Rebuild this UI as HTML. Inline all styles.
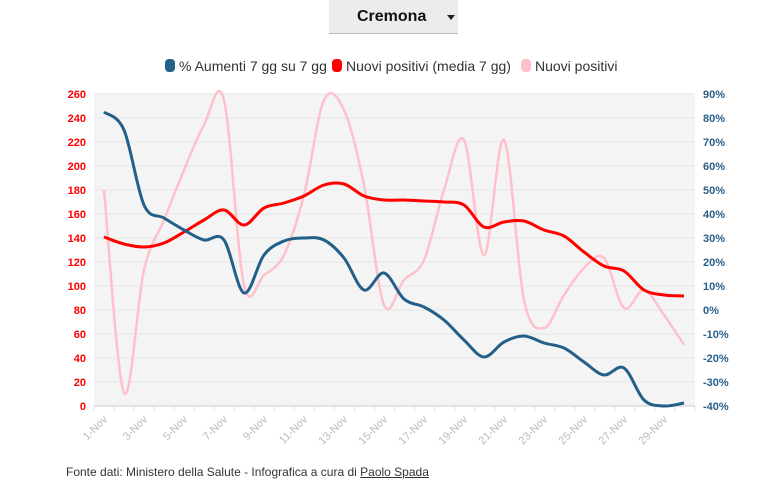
<!DOCTYPE html>
<html><head><meta charset="utf-8"><style>
body{margin:0;width:770px;height:491px;background:#fff;font-family:"Liberation Sans",sans-serif;overflow:hidden;position:relative}
.sel{position:absolute;left:329px;top:0;width:129px;height:33px;background:#ececec;border-bottom:1px solid #bbb}
.sel b{position:absolute;left:28px;top:8px;font-size:16px;color:#111}
.sel i{position:absolute;left:118px;top:15px;border-left:4px solid transparent;border-right:4px solid transparent;border-top:5px solid #222}
.foot{position:absolute;left:66px;top:465px;font-size:12px;color:#333}
</style></head><body>
<div class="sel"><b>Cremona</b><i></i></div>
<svg id="s" width="770" height="491" style="position:absolute;left:0;top:0"></svg>
<div class="foot">Fonte dati: Ministero della Salute - Infografica a cura di <u>Paolo Spada</u></div>
<script>
var s=document.getElementById('s'),h='';
var L=94,R=695,T=94,B=406;
h+='<rect x="'+L+'" y="'+T+'" width="'+(R-L)+'" height="'+(B-T)+'" fill="#f4f4f4"/>';
for(var i=0;i<=13;i++){var y=B-i*(B-T)/13;
h+='<line x1="'+L+'" x2="'+R+'" y1="'+y+'" y2="'+y+'" stroke="#e6e6e6"/>';
h+='<text x="86" y="'+(y+4)+'" text-anchor="end" font-size="11" font-weight="bold" fill="#f00">'+(i*20)+'</text>';
h+='<text x="703" y="'+(y+4)+'" font-size="11" font-weight="bold" fill="#2a5f8a">'+(i*10-40)+'%</text>';}
h+='<line x1="'+L+'" x2="'+R+'" y1="'+B+'" y2="'+B+'" stroke="#ccc"/>';
for(var d=0;d<=30;d++){var x=L+d*20.03;h+='<line x1="'+x+'" x2="'+x+'" y1="'+B+'" y2="'+(B+5)+'" stroke="#ddd"/>';}
for(var d=1;d<=29;d+=2){var x=104+(d-1)*20;h+='<text transform="translate('+(x+4)+','+(B+14)+') rotate(-45)" text-anchor="end" font-size="11" fill="#bbb">'+d+'-Nov</text>';}
function path(ys,c,w){var p=ys.map(function(y,i){return[104+i*20,y]});var d='M'+p[0];
for(var i=0;i<p.length-1;i++){var p0=p[i-1]||p[i],p1=p[i],p2=p[i+1],p3=p[i+2]||p2;
d+=' C'+(p1[0]+(p2[0]-p0[0])/6)+','+(p1[1]+(p2[1]-p0[1])/6)+' '+(p2[0]-(p3[0]-p1[0])/6)+','+(p2[1]-(p3[1]-p1[1])/6)+' '+p2;}
return '<path d="'+d+'" fill="none" stroke="'+c+'" stroke-width="'+w+'"/>';}
h+=path([190,393,270,220,170,125,100,285,275,255,195,100,110,185,305,280,260,190,140,255,140,300,328,295,268,258,308,290,315,345],'#ffc0cb',2.5);
h+=path([237,244,247,243,232,220,210,225,208,203,196,185,184,196,200,200,201,202,205,227,222,221,230,236,252,266,271,290,295,296],'#f00',3);
h+=path([112,130,205,218,230,240,240,293,255,241,238,240,258,290,273,299,307,320,340,357,342,336,343,348,362,375,368,400,406,403],'#236089',3);
var lg=[[165,'#236089','% Aumenti 7 gg su 7 gg'],[332,'#f00','Nuovi positivi (media 7 gg)'],[521,'#ffc0cb','Nuovi positivi']];
lg.forEach(function(l){h+='<rect x="'+l[0]+'" y="59" width="10" height="13" rx="4" fill="'+l[1]+'"/><text x="'+(l[0]+14)+'" y="71" font-size="14" fill="#333">'+l[2]+'</text>';});
s.innerHTML=h;
</script>
</body></html>
